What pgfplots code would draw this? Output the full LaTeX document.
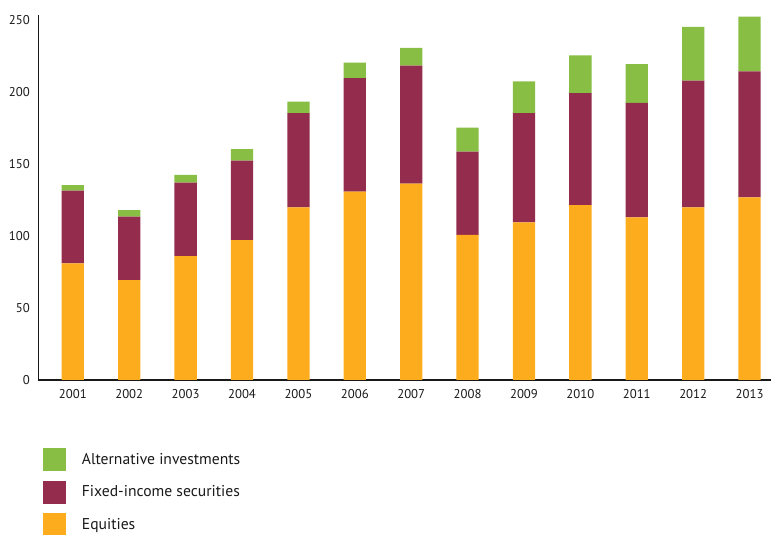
\documentclass[border=0pt]{standalone}
\usepackage{fontspec}
\setmainfont{PT Sans}
\usepackage{pgfplots}
\pgfplotsset{compat=1.18}
\definecolor{altgreen}{RGB}{137,190,68}
\definecolor{fixmaroon}{RGB}{148,45,77}
\definecolor{eqorange}{RGB}{252,172,28}
\begin{document}
\begin{tikzpicture}[x=1bp,y=1bp]
\useasboundingbox (0,0) rectangle (771,535);
\begin{axis}[
  at={(38.3bp,155bp)}, anchor=south west,
  scale only axis, width=732.7bp, height=365bp,
  xmin=-0.612, xmax=12.38, ymin=0, ymax=253.5,
  ybar stacked, bar width=22.3bp,
  xtick={0,...,12},
  xticklabels={2001,2002,2003,2004,2005,2006,2007,2008,2009,2010,2011,2012,2013},
  ytick={0,50,100,150,200,250},
  axis x line=bottom, axis y line=left,
  axis line style={-, line width=1.2bp, black!90},
  major tick length=0pt,
  tick label style={font=\fontsize{12.8}{14}\selectfont, text=black!90},
  /pgf/number format/assume math mode=true,
  yticklabel style={xshift=-5bp},
  xticklabel style={yshift=-5.5bp},
  legend style={at={(0.0064,-0.1865)}, anchor=north west, draw=none, fill=none,
    inner sep=0pt, row sep=9.3bp, column sep=15.7bp,
    font=\fontsize{15.7}{18}\selectfont, text=black!90,
    nodes={inner sep=0pt}},
  legend cell align=left,
  legend image code/.code={\fill[#1] (0bp,-11.5bp) rectangle (23bp,11.5bp);},
  reverse legend,
]
\addplot[fill=eqorange, draw=none] coordinates {
(0,81.0) (1,69.4) (2,86.1) (3,97.2) (4,119.9) (5,130.8) (6,136.3)
(7,100.7) (8,109.5) (9,121.5) (10,113.0) (11,119.9) (12,126.9)};
\addlegendentry{Equities}
\addplot[fill=fixmaroon, draw=none] coordinates {
(0,50.5) (1,44.0) (2,50.9) (3,55.1) (4,65.5) (5,78.9) (6,82.0)
(7,57.9) (8,75.9) (9,77.8) (10,79.4) (11,88.0) (12,87.5)};
\addlegendentry{Fixed-income securities}
\addplot[fill=altgreen, draw=none] coordinates {
(0,3.9) (1,4.6) (2,5.4) (3,8.1) (4,7.9) (5,10.7) (6,12.3)
(7,16.6) (8,22.0) (9,26.2) (10,27.0) (11,37.4) (12,37.9)};
\addlegendentry{Alternative investments}
\end{axis}
\end{tikzpicture}
\end{document}
